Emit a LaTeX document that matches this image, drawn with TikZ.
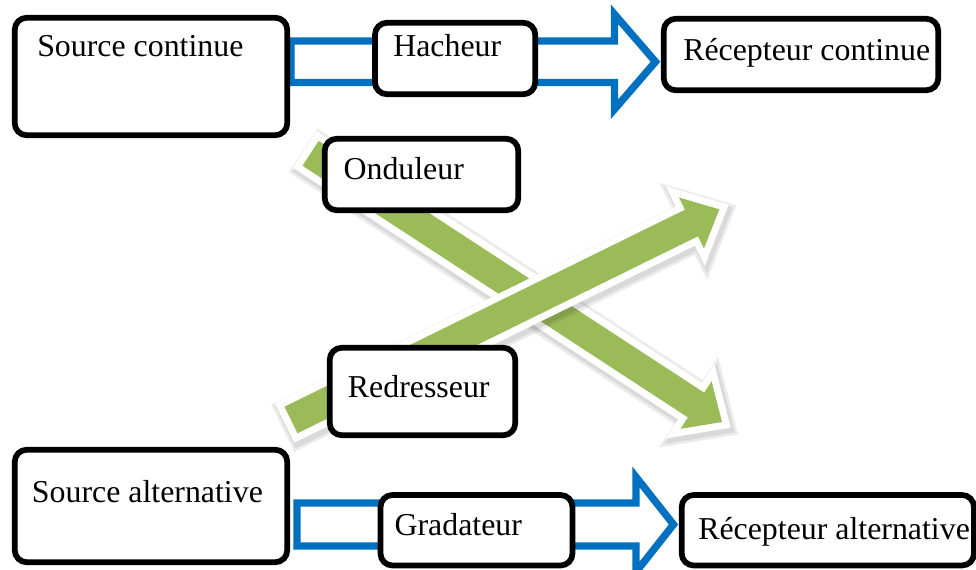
\documentclass[tikz,border=0pt]{standalone}
\usepackage{fontspec}
\setmainfont{Liberation Serif}
\usetikzlibrary{calc,fit}

\definecolor{arrowblue}{HTML}{0070C0}
\definecolor{arrowgreen}{HTML}{9BBB59}

\newcommand\blockarrow[6]{%
  \path ($(#3)!#6!(#2)$) coordinate (bb);
  \path[#1] ($(#2)!#4!90:(#3)$) -- ($(bb)!#4!90:(#3)$) -- ($(bb)!#5!90:(#3)$) -- (#3)
    -- ($(bb)!#5!-90:(#3)$) -- ($(bb)!#4!-90:(#3)$) -- ($(#2)!#4!-90:(#3)$) -- cycle;
}

\begin{document}
\begin{tikzpicture}[x=0.75pt, y=-0.75pt,
  blk/.style={draw, line width=4.3pt, rounded corners=9pt, fill=white, inner sep=0pt, outer sep=0pt},
  lbl/.style={anchor=base west, inner sep=0pt, font=\fontsize{23.9pt}{28pt}\selectfont},
  hollow/.style={draw=arrowblue, line width=5.5pt, line join=miter, fill=white},
  gshade/.style={draw=black, line width=#1, line join=miter, opacity=0.08,
    transform canvas={shift={(1.5pt,-2.5pt)}}},
  grim/.style={draw=white, line width=10.5pt, line join=miter},
  gbody/.style={fill=arrowgreen}]
  \useasboundingbox (0,0) rectangle (976,570);

  \coordinate (dc-from) at (291,61.75);
  \coordinate (dc-to) at (655.5,61.75);
  \coordinate (ac-from) at (297,524.5);
  \coordinate (ac-to) at (673.5,524.5);
  \coordinate (ond-from) at (310.6,153.3);
  \coordinate (ond-to) at (722,422);
  \coordinate (red-from) at (291,420);
  \coordinate (red-to) at (719.3,209.3);

  \blockarrow{hollow}{dc-from}{dc-to}{15.6pt}{35.6pt}{30.75pt}
  \blockarrow{hollow}{ac-from}{ac-to}{16.1pt}{35.6pt}{28.1pt}

  \foreach \a/\b in {ond-from/ond-to, red-from/red-to} {
    \blockarrow{gshade=17pt}{\a}{\b}{11.1pt}{21.3pt}{23.25pt}
    \blockarrow{gshade=13pt}{\a}{\b}{11.1pt}{21.3pt}{23.25pt}
    \blockarrow{grim}{\a}{\b}{11.1pt}{21.3pt}{23.25pt}
    \blockarrow{gbody}{\a}{\b}{11.1pt}{21.3pt}{23.25pt}
  }

  \node[blk, fit={(14.75,17.75) (287.25,135.25)}] (srcdc) {};
  \node[blk, fit={(375,22.75) (535.25,94.25)}] (hach) {};
  \node[blk, fit={(663.75,18.75) (938.25,90.25)}] (recdc) {};
  \node[blk, fit={(324.75,138.75) (518.25,210.25)}] (ond) {};
  \node[blk, fit={(329.75,347.75) (515.25,435.25)}] (redr) {};
  \node[blk, fit={(14.75,449.75) (287.25,562.25)}] (srcac) {};
  \node[blk, fit={(380.5,495) (572.5,565.5)}] (grad) {};
  \node[blk, fit={(681.7,495) (974,565.5)}] (recac) {};

  \node[lbl] (srcdc-txt) at (37,57) {Source continue};
  \node[lbl] (hach-txt) at (393,57) {Hacheur};
  \node[lbl] (recdc-txt) at (683,61) {Récepteur continue};
  \node[lbl] (ond-txt) at (343.3,180) {Onduleur};
  \node[lbl] (redr-txt) at (347.7,397.3) {Redresseur};
  \node[lbl] (srcac-txt) at (31.7,502.3) {Source alternative};
  \node[lbl] (grad-txt) at (394.3,535.7) {Gradateur};
  \node[lbl] (recac-txt) at (698,540) {Récepteur alternative};
\end{tikzpicture}
\end{document}
